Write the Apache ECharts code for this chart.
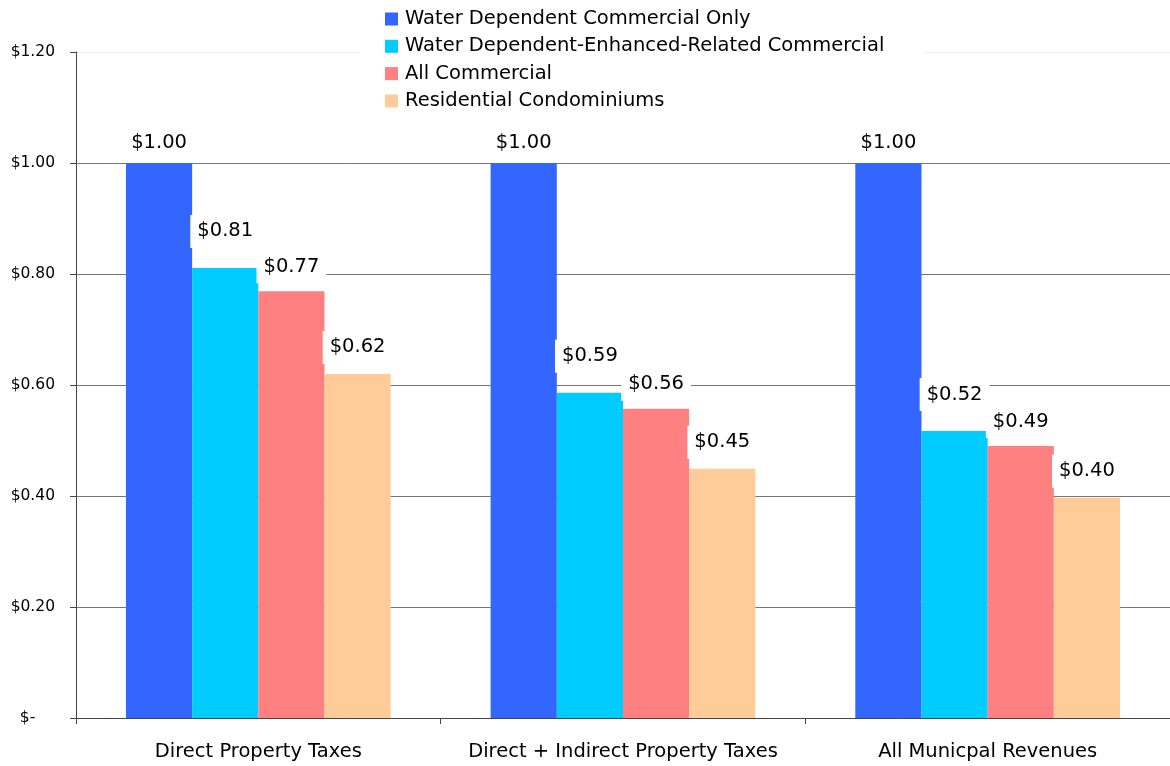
<!DOCTYPE html>
<html><head><meta charset="utf-8">
<script src="https://cdn.jsdelivr.net/npm/echarts@6/dist/echarts.min.js"></script>
<style>html,body{margin:0;padding:0;background:#fff}#c{width:1170px;height:766px}</style>
</head><body><div id="c"></div>
<script>
const categories = ['Direct Property Taxes', 'Direct + Indirect Property Taxes', 'All Municpal Revenues'];
const seriesNames = ['Water Dependent Commercial Only', 'Water Dependent-Enhanced-Related Commercial', 'All Commercial', 'Residential Condominiums'];
const waterDependentOnly = [1.00, 1.00, 1.00];
const waterDependentEnhanced = [0.811, 0.586, 0.517];
const allCommercial = [0.769, 0.557, 0.490];
const residentialCondos = [0.620, 0.449, 0.397];
const yMin = 0, yMax = 1.2, yStep = 0.2;

const colors = ['#3366FF', '#00CCFF', '#FF8080', '#FFCC99'];
const labelDistances = [4, 20, 8, 10];
const FONT = 'DejaVu Sans';
const values = [waterDependentOnly, waterDependentEnhanced, allCommercial, residentialCondos];

const chart = echarts.init(document.getElementById('c'), null, {renderer: 'canvas'});
chart.setOption({
  animation: false,
  backgroundColor: '#fff',
  textStyle: {fontFamily: FONT},
  grid: {left: 76, right: 0, top: 52, bottom: 48, containLabel: false},
  legend: {
    orient: 'vertical',
    left: 360, top: 4,
    padding: [5, 40, 5, 25],
    backgroundColor: '#fff',
    itemWidth: 13, itemHeight: 13, itemGap: 7.3,
    icon: 'rect',
    textStyle: {fontFamily: FONT, fontSize: 19.5, color: '#000', lineHeight: 20, padding: [0, 0, 0, 2]},
    data: seriesNames
  },
  xAxis: {
    type: 'category',
    data: categories,
    axisLine: {lineStyle: {color: '#444', width: 1}},
    axisTick: {show: true, length: 6, lineStyle: {color: '#444'}},
    axisLabel: {interval: 0, fontFamily: FONT, fontSize: 19.5, color: '#000', margin: 22, lineHeight: 24}
  },
  yAxis: {
    type: 'value',
    min: yMin, max: yMax, interval: yStep,
    axisLine: {show: true, lineStyle: {color: '#444', width: 1}},
    axisTick: {show: true, length: 6, lineStyle: {color: '#444'}},
    axisLabel: {
      fontFamily: FONT, fontSize: 15.5, color: '#000', margin: 21,
      formatter: v => Math.abs(v) < 1e-9 ? '$-    ' : '$' + v.toFixed(2)
    },
    splitLine: {show: true, lineStyle: {color: ['#777', '#777', '#777', '#777', '#777', '#777', '#eeeeee'], width: 1}}
  },
  series: values.map((arr, i) => ({
    name: seriesNames[i],
    type: 'bar',
    data: arr,
    barGap: '0%',
    barCategoryGap: '27.4%',
    itemStyle: {color: colors[i]},
    label: {
      show: true,
      position: 'top',
      distance: labelDistances[i],
      formatter: p => '$' + p.value.toFixed(2),
      fontFamily: FONT, fontSize: 19.5, color: '#000',
      backgroundColor: '#fff',
      padding: [6, 7],
      lineHeight: 21
    }
  }))
});
</script></body></html>
